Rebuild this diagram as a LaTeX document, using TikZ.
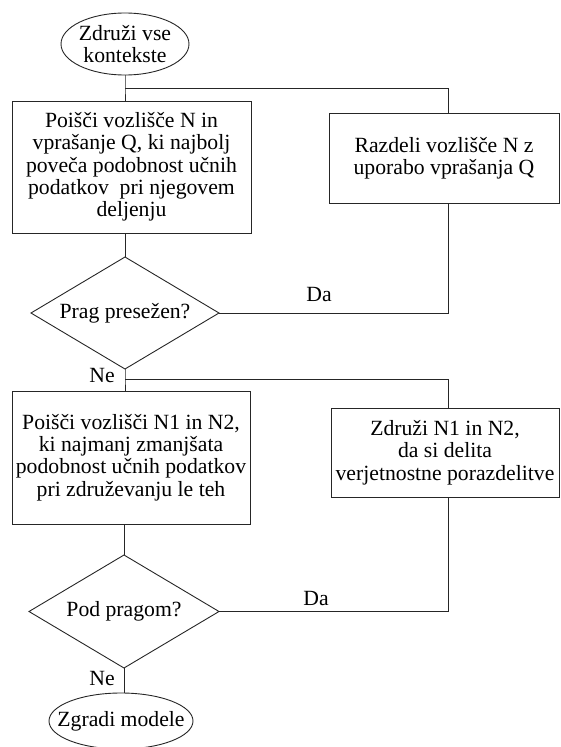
\documentclass[tikz,border=0pt]{standalone}
\usepackage{fontspec}
\setmainfont{Liberation Serif}
\usetikzlibrary{shapes.geometric,calc}
\begin{document}
\begin{tikzpicture}[x=1pt,y=-1pt,
  every node/.style={font=\fontsize{21.7}{22.3}\selectfont, align=center, inner sep=0pt, outer sep=0pt},
  line/.style={draw=black!85, line width=0.9pt},
  boxnode/.style={line, rectangle},
  decision/.style={line, diamond, aspect=1.68},
  ovalnode/.style={rectangle},
  lbl/.style={font=\fontsize{21.7}{22.3}\selectfont}
]
\useasboundingbox (0,0) rectangle (560,747);

% nodes
\node[ovalnode, minimum width=128, minimum height=62] (e1) at (125,44) {Združi vse\\kontekste};
\node[boxnode, minimum width=239, minimum height=132] (b1) at (131.5,167)
  {Poišči vozlišče N in\\vprašanje Q, ki najbolj\\poveča podobnost učnih\\podatkov\ \ pri njegovem\\deljenju};
\node[boxnode, minimum width=230, minimum height=90] (r1) at (444,158)
  {Razdeli vozlišče N z\\uporabo vprašanja Q};
\node[decision, minimum width=188, minimum height=112] (d1) at (125,313) {Prag presežen?};
\node[boxnode, minimum width=238, minimum height=133] (b2) at (131,457.5)
  {Poišči vozlišči N1 in N2,\\ki najmanj zmanjšata\\podobnost učnih podatkov\\pri združevanju le teh};
\node[boxnode, minimum width=228, minimum height=89] (r2) at (445,452.5)
  {Združi N1 in N2,\\da si delita\\verjetnostne porazdelitve};
\node[decision, minimum width=190, minimum height=113] (d2) at (124,611.5) {Pod pragom?};
\node[ovalnode, minimum width=144, minimum height=56] (e2) at (121,721) {Zgradi modele};

% ellipse outlines
\draw[line] (e1.center) ellipse [x radius=64, y radius=31];
\draw[line] (e2.center) ellipse [x radius=72, y radius=28];

% junction coordinates
\coordinate (j1) at (125,88);
\coordinate (c1) at (448,88);
\coordinate (j2) at (125,379);
\coordinate (c2) at (448,379);

% connectors
\draw[line] (e1.south) -- (j1) -- (j1 |- b1.north);
\draw[line] (j1) -- (c1) -- (c1 |- r1.north);
\draw[line] (c1 |- r1.south) -- (c1 |- d1.east) -- (d1.east);
\draw[line] (b1.south -| d1.north) -- (d1.north);
\draw[line] (d1.south) -- (j2) -- (j2 |- b2.north);
\draw[line] (j2) -- (c2) -- (c2 |- r2.north);
\draw[line] (c2 |- r2.south) -- (c2 |- d2.east) -- (d2.east);
\draw[line] (b2.south -| d2.north) -- (d2.north);
\draw[line] (d2.south) -- (d2.south |- e2.north);

% labels
\node[lbl] (ne1) at (102,375) {Ne};
\node[lbl] (da1) at (319,294) {Da};
\node[lbl] (ne2) at (102,678) {Ne};
\node[lbl] (da2) at (316,598) {Da};
\end{tikzpicture}
\end{document}
